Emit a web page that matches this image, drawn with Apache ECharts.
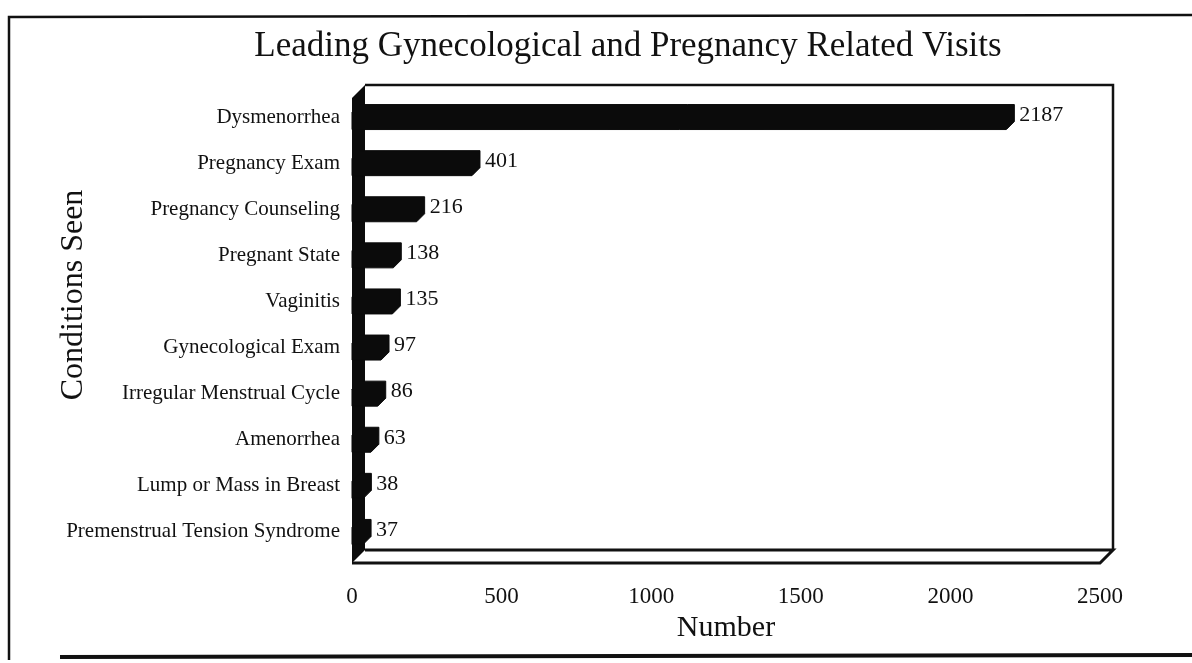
<!DOCTYPE html>
<html>
<head>
<meta charset="utf-8">
<title>Leading Gynecological and Pregnancy Related Visits</title>
<script src="https://cdn.jsdelivr.net/npm/echarts@6/dist/echarts.min.js"></script>
<style>
  html, body { margin: 0; padding: 0; background: #fff; }
  #chart { width: 1192px; height: 663px; }
</style>
</head>
<body>
<div id="chart"></div>
<script>
// data
const categories = [
  'Dysmenorrhea',
  'Pregnancy Exam',
  'Pregnancy Counseling',
  'Pregnant State',
  'Vaginitis',
  'Gynecological Exam',
  'Irregular Menstrual Cycle',
  'Amenorrhea',
  'Lump or Mass in Breast',
  'Premenstrual Tension Syndrome'
];
const visits = [2187, 401, 216, 138, 135, 97, 86, 63, 38, 37];
const xMin = 0;
const xMax = 2500;
const xStep = 500;

const FONT = '"Liberation Serif", "Times New Roman", serif';
const INK = '#111';

// plot box (the fake 3d frame)
const plotLeft = 352;
const plotRight = 1100;
const wallTop = 85;
const floorFront = 563;
const wallDepth = 13;
const barDepth = 8;
const barHalf = 12.5;

const myChart = echarts.init(document.getElementById('chart'));
const W = 1192;

// 3d-looking bar: front face + top + right side, as one outline
function renderBar(params, api) {
  const cat = api.value(0);
  const val = api.value(1);
  const p0 = api.coord([0, cat]);
  const p1 = api.coord([val, cat]);
  const x0 = p0[0];
  const x1 = p1[0];
  const yc = p0[1];
  const top = yc - barHalf;
  const bot = yc + barHalf;
  const d = barDepth;
  return {
    type: 'group',
    children: [
      {
        type: 'polygon',
        shape: {
          points: [
            [x0, top + d],
            [x0 + d, top],
            [x1 + d, top],
            [x1 + d, bot - d],
            [x1, bot],
            [x0, bot]
          ]
        },
        style: { fill: '#0b0b0b', stroke: '#0b0b0b', lineWidth: 1 }
      },
      {
        type: 'text',
        style: {
          text: String(val),
          x: x1 + d + 5,
          y: yc - 2,
          verticalAlign: 'middle',
          align: 'left',
          fill: INK,
          font: '22px ' + FONT
        }
      }
    ]
  };
}

const frame = [
  // outer page border
  {
    type: 'polyline',
    shape: { points: [[1200, 15], [9, 17], [9, 660]] },
    style: { stroke: INK, lineWidth: 2.5, fill: null }
  },
  {
    type: 'line',
    shape: { x1: 60, y1: 657, x2: 1200, y2: 655 },
    style: { stroke: INK, lineWidth: 4 }
  },
  // back wall outline
  {
    type: 'polyline',
    shape: {
      points: [
        [plotLeft + wallDepth, wallTop],
        [plotRight + wallDepth, wallTop],
        [plotRight + wallDepth, floorFront - wallDepth]
      ]
    },
    style: { stroke: INK, lineWidth: 2.5, fill: null }
  },
  // floor
  {
    type: 'polyline',
    shape: {
      points: [
        [plotLeft + wallDepth, floorFront - wallDepth],
        [plotRight + wallDepth, floorFront - wallDepth],
        [plotRight, floorFront],
        [plotLeft, floorFront]
      ]
    },
    style: { stroke: INK, lineWidth: 3, fill: null }
  },
  // left wall, solid black
  {
    type: 'polygon',
    shape: {
      points: [
        [plotLeft, wallTop + wallDepth],
        [plotLeft + wallDepth, wallTop],
        [plotLeft + wallDepth, floorFront - wallDepth],
        [plotLeft, floorFront]
      ]
    },
    style: { fill: '#0b0b0b' },
    z: 5
  },
  // y axis title
  {
    type: 'text',
    x: 74,
    y: 295,
    rotation: Math.PI / 2,
    style: {
      text: 'Conditions Seen',
      align: 'center',
      verticalAlign: 'middle',
      fill: INK,
      font: '32px ' + FONT
    }
  }
];

const option = {
  backgroundColor: '#fff',
  animation: false,
  title: {
    text: 'Leading Gynecological and Pregnancy Related Visits',
    left: 623,
    top: 24,
    textAlign: 'center',
    textStyle: { fontFamily: FONT, fontWeight: 'normal', fontSize: 35, color: INK }
  },
  grid: {
    left: plotLeft,
    right: W - plotRight,
    top: 94,
    bottom: 108
  },
  xAxis: {
    type: 'value',
    min: xMin,
    max: xMax,
    interval: xStep,
    name: 'Number',
    nameLocation: 'middle',
    nameGap: 58,
    nameTextStyle: { fontFamily: FONT, fontSize: 30, color: INK },
    axisLine: { show: false },
    axisTick: { show: false },
    splitLine: { show: false },
    axisLabel: {
      margin: 30,
      fontFamily: FONT,
      fontSize: 23,
      color: INK,
      formatter: (v) => String(v)
    }
  },
  yAxis: {
    type: 'category',
    data: categories,
    inverse: true,
    axisLine: { show: false },
    axisTick: { show: false },
    splitLine: { show: false },
    axisLabel: { margin: 12, fontFamily: FONT, fontSize: 21, color: INK }
  },
  graphic: frame,
  series: [
    {
      type: 'custom',
      renderItem: renderBar,
      encode: { x: 1, y: 0 },
      data: categories.map((c, i) => [i, visits[i]]),
      z: 10
    }
  ]
};

myChart.setOption(option);
window.addEventListener('resize', () => {
  myChart.resize();
});
</script>
</body>
</html>
